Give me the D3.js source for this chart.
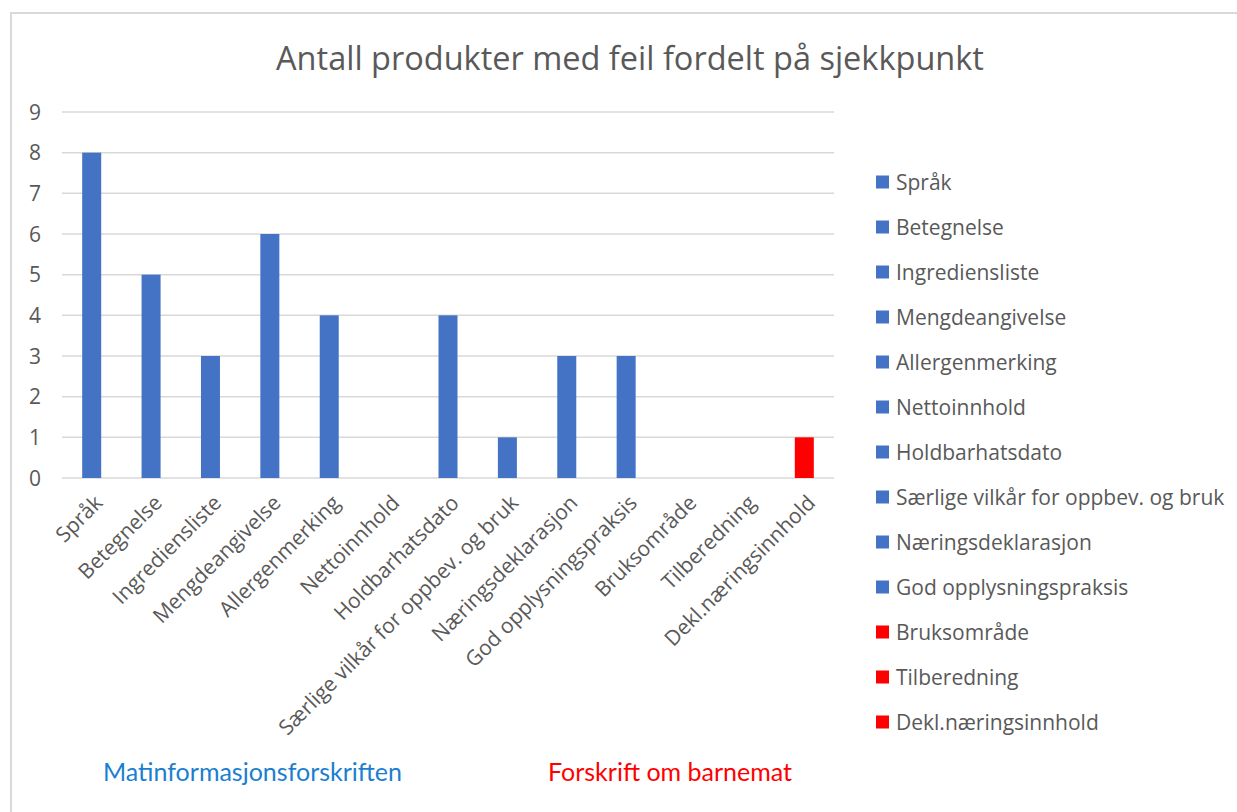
<!DOCTYPE html>
<html>
<head>
<meta charset="utf-8">
<script src="https://cdn.jsdelivr.net/npm/d3@7"></script>
<style>
  body { margin: 0; background: #fff; }
  svg { display: block; }
</style>
</head>
<body>
<svg id="canvas" width="1237" height="812"></svg>
<script>
// data
const categories = [
    "Språk", "Betegnelse", "Ingrediensliste", "Mengdeangivelse", "Allergenmerking",
    "Nettoinnhold", "Holdbarhatsdato", "Særlige vilkår for oppbev. og bruk",
    "Næringsdeklarasjon", "God opplysningspraksis", "Bruksområde", "Tilberedning",
    "Dekl.næringsinnhold"
];
const values = [8, 5, 3, 6, 4, 0, 4, 1, 3, 3, 0, 0, 1];
const groups = ["mat", "mat", "mat", "mat", "mat", "mat", "mat", "mat", "mat", "mat", "barn", "barn", "barn"];
const yTicks = [0, 1, 2, 3, 4, 5, 6, 7, 8, 9];
const groupLabels = ["Matinformasjonsforskriften", "Forskrift om barnemat"];

const colors = { mat: "#4472c4", barn: "#ff0000" };
const textGray = "#595959";
const font = "'Open Sans', 'Noto Sans', sans-serif";

const svg = d3.select("#canvas");

// frame
svg.append("path")
    .attr("d", "M11,812 V13 H1237")
    .attr("fill", "none")
    .attr("stroke", "#d9d9d9")
    .attr("stroke-width", 2);

// title
svg.append("text")
    .attr("x", 630)
    .attr("y", 70)
    .attr("text-anchor", "middle")
    .attr("font-family", font)
    .attr("font-size", 32.5)
    .attr("fill", textGray)
    .text("Antall produkter med feil fordelt på sjekkpunkt");

const x = d3.scaleBand()
    .domain(categories)
    .range([62, 834])
    .paddingInner(0.68)
    .paddingOuter(0.34);

const y = d3.scaleLinear()
    .domain([0, 9])
    .range([478, 112]);

// gridlines
svg.append("g")
    .selectAll("line")
    .data(yTicks)
    .join("line")
    .attr("x1", 62)
    .attr("x2", 834)
    .attr("y1", d => y(d))
    .attr("y2", d => y(d))
    .attr("stroke", "#d9d9d9")
    .attr("stroke-width", 1.5);

// y tick labels
svg.append("g")
    .selectAll("text")
    .data(yTicks)
    .join("text")
    .attr("x", 35)
    .attr("y", d => y(d))
    .attr("dy", "0.36em")
    .attr("text-anchor", "middle")
    .attr("font-family", font)
    .attr("font-size", 21)
    .attr("fill", textGray)
    .text(d => d);

// bars
svg.append("g")
    .selectAll("rect")
    .data(categories)
    .join("rect")
    .attr("x", d => x(d))
    .attr("width", x.bandwidth())
    .attr("y", (d, i) => y(values[i]))
    .attr("height", (d, i) => y(0) - y(values[i]))
    .attr("fill", (d, i) => colors[groups[i]]);

// x labels, rotated
svg.append("g")
    .selectAll("text")
    .data(categories)
    .join("text")
    .attr("transform", d => `translate(${x(d) + x.bandwidth() / 2 + 7},${y(0) + 21}) rotate(-45)`)
    .attr("text-anchor", "end")
    .attr("dy", "0.35em")
    .attr("font-family", font)
    .attr("font-size", 21)
    .attr("fill", textGray)
    .text(d => d);

// legend
const legend = svg.append("g")
    .selectAll("g")
    .data(categories)
    .join("g")
    .attr("transform", (d, i) => `translate(876,${182 + i * 45})`);

legend.append("rect")
    .attr("x", 0)
    .attr("y", -6.5)
    .attr("width", 13)
    .attr("height", 13)
    .attr("fill", (d, i) => colors[groups[i]]);

legend.append("text")
    .attr("x", 20)
    .attr("dy", "0.36em")
    .attr("font-family", font)
    .attr("font-size", 21)
    .attr("fill", textGray)
    .text(d => d);

// group captions below chart
svg.append("g")
    .selectAll("text")
    .data(groupLabels)
    .join("text")
    .attr("x", (d, i) => i === 0 ? 103 : 548)
    .attr("y", 781)
    .attr("font-family", "Lato, sans-serif")
    .attr("font-size", 25)
    .attr("fill", (d, i) => i === 0 ? "#1a7fd0" : "#ff0000")
    .text(d => d);
</script>
</body>
</html>
